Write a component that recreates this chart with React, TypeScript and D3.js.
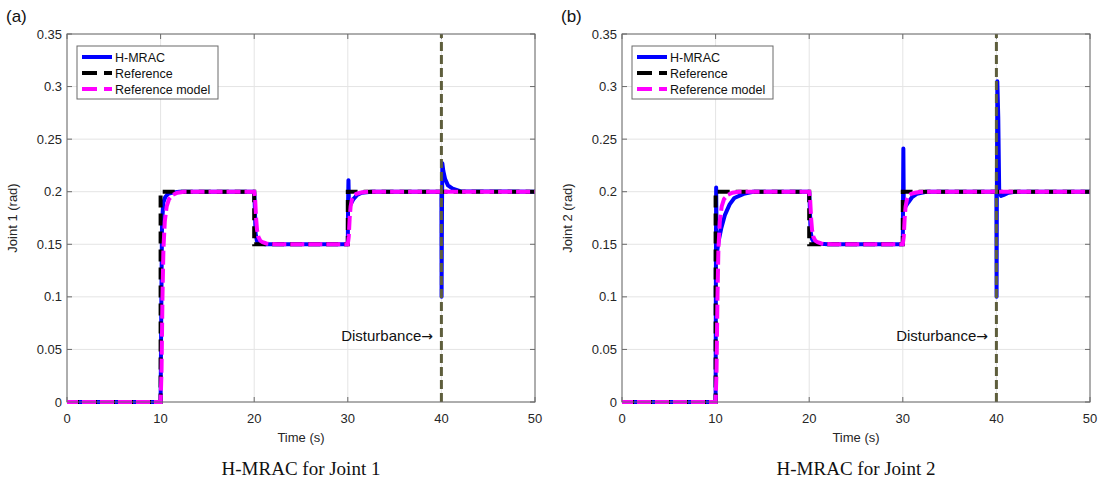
import React from "react";
import * as d3 from "d3";

// ---------- data ----------
const xTicks = [0, 10, 20, 30, 40, 50];
const yTicks = [0, 0.05, 0.1, 0.15, 0.2, 0.25, 0.3, 0.35];
const yTickLabels = ["0", "0.05", "0.1", "0.15", "0.2", "0.25", "0.3", "0.35"];

const refT = [0, 10, 10, 20, 20, 30, 30, 50];
const refY = [0, 0, 0.2, 0.2, 0.15, 0.15, 0.2, 0.2];

const modelT = [0, 10, 10.1, 10.2, 10.3, 10.45, 10.65, 10.9, 11.3, 11.8, 12.5, 20, 20.1, 20.2, 20.3, 20.45, 20.65, 20.9, 21.3, 21.8, 22.5, 30, 30.1, 30.2, 30.3, 30.45, 30.65, 30.9, 31.3, 31.8, 32.5, 50];
const modelY = [0, 0, 0.03, 0.1, 0.145, 0.172, 0.186, 0.193, 0.197, 0.199, 0.2, 0.2, 0.193, 0.175, 0.164, 0.157, 0.1535, 0.152, 0.1508, 0.1502, 0.15, 0.15, 0.157, 0.175, 0.186, 0.193, 0.1965, 0.198, 0.199, 0.1997, 0.2, 0.2];

const hmrac1T = [0, 10, 10.05, 10.15, 10.3, 10.5, 10.8, 11.2, 12, 20, 20.05, 20.15, 20.3, 20.5, 20.8, 21.2, 22, 30, 30.03, 30.07, 30.12, 30.3, 30.6, 31, 31.5, 32.5, 40, 40.02, 40.06, 40.1, 40.2, 40.4, 40.7, 41.2, 42, 50];
const hmrac1Y = [0, 0, 0.06, 0.17, 0.19, 0.195, 0.198, 0.199, 0.2, 0.2, 0.19, 0.16, 0.153, 0.151, 0.1505, 0.15, 0.15, 0.15, 0.19, 0.211, 0.19, 0.188, 0.193, 0.197, 0.199, 0.2, 0.2, 0.1, 0.18, 0.227, 0.22, 0.212, 0.206, 0.203, 0.2005, 0.2];

const hmrac2T = [0, 10, 10.03, 10.06, 10.12, 10.3, 10.6, 11, 11.5, 12, 13, 14, 20, 20.05, 20.15, 20.3, 20.5, 20.8, 21.2, 22, 30, 30.03, 30.06, 30.1, 30.3, 30.6, 31, 31.5, 32.5, 40, 40.02, 40.05, 40.1, 40.2, 40.3, 40.5, 40.8, 41.3, 42, 50];
const hmrac2Y = [0, 0, 0.12, 0.204, 0.14, 0.152, 0.165, 0.178, 0.188, 0.194, 0.198, 0.2, 0.2, 0.19, 0.162, 0.155, 0.152, 0.151, 0.1505, 0.15, 0.15, 0.2, 0.241, 0.19, 0.186, 0.19, 0.195, 0.198, 0.2, 0.2, 0.1, 0.2, 0.305, 0.27, 0.2, 0.196, 0.197, 0.199, 0.2, 0.2];

const disturbanceT = 40;
const legendLabels = ["H-MRAC", "Reference", "Reference model"];

const panels = [
  { tag: "(a)", ylabel: "Joint 1 (rad)", caption: "H-MRAC for Joint 1", hT: hmrac1T, hY: hmrac1Y, x0: 67, x1: 535, offset: 0 },
  { tag: "(b)", ylabel: "Joint 2 (rad)", caption: "H-MRAC for Joint 2", hT: hmrac2T, hY: hmrac2Y, x0: 622, x1: 1090, offset: 555 },
];

const SANS = "'Liberation Sans', Arial, Helvetica, sans-serif";
const SERIF = "'Liberation Serif', 'Times New Roman', serif";
const BLUE = "#0000ff";
const MAGENTA = "#ff00ff";
const OLIVE = "#5e5e3c";
const AXIS = "#6a6a6a";
const GRID = "#e4e4e4";
const TXT = "#262626";

function Panel({ p, idx }: { p: any; idx: number }) {
  const top = 34, bottom = 402;
  const x = d3.scaleLinear().domain([0, 50]).range([p.x0, p.x1]);
  const y = d3.scaleLinear().domain([0, 0.35]).range([bottom, top]);
  const mk = (ts: number[], vs: number[]) =>
    d3.line<number>().x((_, i) => x(ts[i])).y((_, i) => y(vs[i]))(ts) || "";
  const clipId = `clip${idx}`;
  const cx = (p.x0 + p.x1) / 2;
  const lgX = p.x0 + 10;
  const lgY = 46;
  return (
    <g>
      <defs>
        <clipPath id={clipId}>
          <rect x={p.x0} y={top - 2} width={p.x1 - p.x0} height={bottom - top + 4} />
        </clipPath>
      </defs>
      <rect x={p.x0} y={top} width={p.x1 - p.x0} height={bottom - top} fill="#fff" />
      {xTicks.map((t) => (
        <line key={"gx" + t} x1={x(t)} x2={x(t)} y1={top} y2={bottom} stroke={GRID} strokeWidth={1} />
      ))}
      {yTicks.map((t) => (
        <line key={"gy" + t} x1={p.x0} x2={p.x1} y1={y(t)} y2={y(t)} stroke={GRID} strokeWidth={1} />
      ))}
      {xTicks.map((t) => (
        <g key={"tx" + t}>
          <line x1={x(t)} x2={x(t)} y1={bottom} y2={bottom - 5} stroke={AXIS} />
          <line x1={x(t)} x2={x(t)} y1={top} y2={top + 5} stroke={AXIS} />
          <text x={x(t)} y={bottom + 21} textAnchor="middle" fontFamily={SANS} fontSize={13} fill={TXT}>{t}</text>
        </g>
      ))}
      {yTicks.map((t, i) => (
        <g key={"ty" + t}>
          <line x1={p.x0} x2={p.x0 + 5} y1={y(t)} y2={y(t)} stroke={AXIS} />
          <line x1={p.x1} x2={p.x1 - 5} y1={y(t)} y2={y(t)} stroke={AXIS} />
          <text x={p.x0 - 5} y={y(t) + 4.5} textAnchor="end" fontFamily={SANS} fontSize={13} fill={TXT}>{yTickLabels[i]}</text>
        </g>
      ))}
      <g clipPath={`url(#${clipId})`}>
        <path d={mk(p.hT, p.hY)} fill="none" stroke={BLUE} strokeWidth={4} strokeLinejoin="round" />
        <path d={mk(refT, refY)} fill="none" stroke="#000" strokeWidth={4} strokeDasharray="12 6" />
        <path d={mk(modelT, modelY)} fill="none" stroke={MAGENTA} strokeWidth={4} strokeDasharray="14 4" strokeDashoffset={3} />
        <line x1={x(disturbanceT)} x2={x(disturbanceT)} y1={y(0)} y2={y(0.35)} stroke={OLIVE} strokeWidth={3} strokeDasharray="9 4" />
      </g>
      <rect x={p.x0} y={top} width={p.x1 - p.x0} height={bottom - top} fill="none" stroke={AXIS} strokeWidth={1} />
      <text x={x(39.1)} y={y(0.058)} textAnchor="end" fontFamily={SANS} fontSize={15} fill="#111">
        Disturbance<tspan fontFamily="'DejaVu Sans', sans-serif" fontSize={14}>→</tspan>
      </text>
      <rect x={lgX} y={lgY} width={141} height={53} fill="#fff" stroke={AXIS} strokeWidth={1} />
      {legendLabels.map((lab, i) => {
        const ly = lgY + 11 + i * 16;
        const stroke = i === 0 ? BLUE : i === 1 ? "#000" : MAGENTA;
        return (
          <g key={lab}>
            <line x1={lgX + 5} x2={lgX + 35} y1={ly} y2={ly} stroke={stroke} strokeWidth={4} strokeDasharray={i === 0 ? undefined : "15 7"} />
            <text x={lgX + 38} y={ly + 4.5} fontFamily={SANS} fontSize={12.5} fill="#111">{lab}</text>
          </g>
        );
      })}
      <text x={cx} y={442} textAnchor="middle" fontFamily={SANS} fontSize={13} fill={TXT}>Time (s)</text>
      <text transform={`translate(${p.x0 - 50},${(top + bottom) / 2}) rotate(-90)`} textAnchor="middle" fontFamily={SANS} fontSize={13} fill={TXT}>{p.ylabel}</text>
      <text x={p.offset + 6} y={22} fontFamily={SANS} fontSize={17} fill="#111">{p.tag}</text>
      <text x={cx} y={475} textAnchor="middle" fontFamily={SERIF} fontSize={19} fill="#111">{p.caption}</text>
    </g>
  );
}

export default function App() {
  return (
    <svg width={1106} height={484} style={{ position: "absolute", left: 0, top: 0, background: "#fff" }}>
      <rect width={1106} height={484} fill="#fff" />
      {panels.map((p, i) => (
        <Panel key={i} p={p} idx={i} />
      ))}
    </svg>
  );
}
